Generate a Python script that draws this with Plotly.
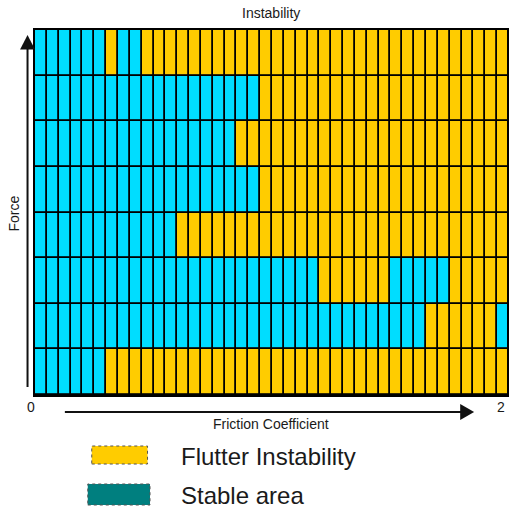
import plotly.graph_objects as go

# ---- data -----------------------------------------------------------------
# Each row (top -> bottom) has 40 cells along the friction-coefficient axis
# (0 .. 2, step 0.05).  S = stable area, F = flutter instability.
row_states = [
    "SSSSSSFSSF FFFFFFFFFF FFFFFFFFFF FFFFFFFFFF",
    "SSSSSSSSSS SSSSSSSSSF FFFFFFFFFF FFFFFFFFFF",
    "SSSSSSSSSS SSSSSSSFFF FFFFFFFFFF FFFFFFFFFF",
    "SSSSSSSSSS SSSSSSSSSF FFFFFFFFFF FFFFFFFFFF",
    "SSSSSSSSSS SSFFFFFFFF FFFFFFFFFF FFFFFFFFFF",
    "SSSSSSSSSS SSSSSSSSSS SSSSFFFFFF SSSSSFFFFF",
    "SSSSSSSSSS SSSSSSSSSS SSSSSSSSSS SSSFFFFFFS",
    "SSSSSSFFFF FFFFFFFFFF FFFFFFFFFF FFFFFFFFFF",
]
friction_min = 0.0
friction_max = 2.0
x_tick_labels = ["0", "2"]
legend_labels = ["Flutter Instability", "Stable area"]
title_text = "Instability"
x_title = "Friction Coefficient"
y_title = "Force"

# ---- build matrix ------------------------------------------------------------
cells = [r.replace(" ", "") for r in row_states]
n_cols = len(cells[0])
step = (friction_max - friction_min) / n_cols
x_centers = [friction_min + step * (i + 0.5) for i in range(n_cols)]
# heatmap rows go bottom -> top
z = [[1 if c == "F" else 0 for c in row] for row in reversed(cells)]
y_idx = list(range(len(cells)))

CYAN = "#00DDFF"
YELLOW = "#FFCC00"
TEAL = "#007F7F"
FONT = "Liberation Sans, Arial, Helvetica, sans-serif"
TXT = "#1a1a1a"

W, H = 509, 512
L, R, T, B = 35, 0, 30, 117
pw, ph = W - L - R, H - T - B


def px(x):
    return (x - L) / pw


def py(y):
    return (H - B - y) / ph


fig = go.Figure()
fig.add_trace(go.Heatmap(
    x=x_centers, y=y_idx, z=z,
    colorscale=[[0, CYAN], [0.5, CYAN], [0.5, YELLOW], [1, YELLOW]],
    zmin=0, zmax=1, showscale=False, xgap=1.8, ygap=1.8,
    hoverinfo="skip",
))

# visible span: 40 cells are slightly wider than the window, so clip the last
visible_frac = 474.0 / 476.0
fig.update_xaxes(range=[friction_min, friction_min + (friction_max - friction_min) * visible_frac],
                 showgrid=False, zeroline=False, showticklabels=False, ticks="",
                 showline=True, linecolor="black", linewidth=2, mirror=True)
fig.update_yaxes(range=[-0.5, len(cells) - 0.5], showgrid=False, zeroline=False,
                 showticklabels=False, ticks="",
                 showline=True, linecolor="black", linewidth=2, mirror=True)

shapes = []
AC = "#111111"
# vertical arrow (Force)
shapes.append(dict(type="line", xref="paper", yref="paper",
                   x0=px(27.5), x1=px(27.5), y0=py(387), y1=py(48),
                   line=dict(color=AC, width=2)))
shapes.append(dict(type="path", xref="paper", yref="paper",
                   path=f"M {px(27.5)} {py(35)} L {px(20)} {py(49.5)} L {px(35)} {py(49.5)} Z",
                   fillcolor=AC, line=dict(color=AC, width=0)))
# horizontal arrow (Friction Coefficient)
shapes.append(dict(type="line", xref="paper", yref="paper",
                   x0=px(65), x1=px(463), y0=py(412), y1=py(412),
                   line=dict(color=AC, width=2)))
shapes.append(dict(type="path", xref="paper", yref="paper",
                   path=f"M {px(476)} {py(412)} L {px(462)} {py(404)} L {px(462)} {py(420)} Z",
                   fillcolor=AC, line=dict(color=AC, width=0)))
# legend swatches
shapes.append(dict(type="rect", xref="paper", yref="paper",
                   x0=px(92), x1=px(148), y0=py(464), y1=py(446),
                   fillcolor=YELLOW, line=dict(color="#555555", width=1, dash="dot")))
shapes.append(dict(type="rect", xref="paper", yref="paper",
                   x0=px(88), x1=px(150.5), y0=py(505), y1=py(484),
                   fillcolor=TEAL, line=dict(color="#555555", width=1, dash="dot")))

ann = []
ann.append(dict(text=title_text, xref="paper", yref="paper", x=px(271.5), y=py(13),
                xanchor="center", yanchor="middle", showarrow=False,
                font=dict(family=FONT, size=14, color=TXT)))
ann.append(dict(text=x_title, xref="paper", yref="paper", x=px(271.5), y=py(424),
                xanchor="center", yanchor="middle", showarrow=False,
                font=dict(family=FONT, size=14, color=TXT)))
ann.append(dict(text=y_title, xref="paper", yref="paper", x=px(13.5), y=py(214),
                xanchor="center", yanchor="middle", showarrow=False, textangle=-90,
                font=dict(family=FONT, size=14, color=TXT)))
ann.append(dict(text=x_tick_labels[0], xref="paper", yref="paper", x=px(31), y=py(406.5),
                xanchor="center", yanchor="middle", showarrow=False,
                font=dict(family=FONT, size=14, color=TXT)))
ann.append(dict(text=x_tick_labels[1], xref="paper", yref="paper", x=px(509), y=py(406.5),
                xanchor="right", yanchor="middle", showarrow=False,
                font=dict(family=FONT, size=14, color=TXT)))
ann.append(dict(text=legend_labels[0], xref="paper", yref="paper", x=px(180), y=py(456),
                xanchor="left", yanchor="middle", showarrow=False,
                font=dict(family=FONT, size=24, color=TXT)))
ann.append(dict(text=legend_labels[1], xref="paper", yref="paper", x=px(180), y=py(496),
                xanchor="left", yanchor="middle", showarrow=False,
                font=dict(family=FONT, size=24, color=TXT)))

fig.update_layout(width=W, height=H, margin=dict(l=L, r=R, t=T, b=B, pad=0),
                  plot_bgcolor="black", paper_bgcolor="white",
                  shapes=shapes, annotations=ann, showlegend=False)

fig.write_html("out.html", config={"displayModeBar": False},
               post_script="document.body.style.margin='0';document.body.style.overflow='hidden';")
